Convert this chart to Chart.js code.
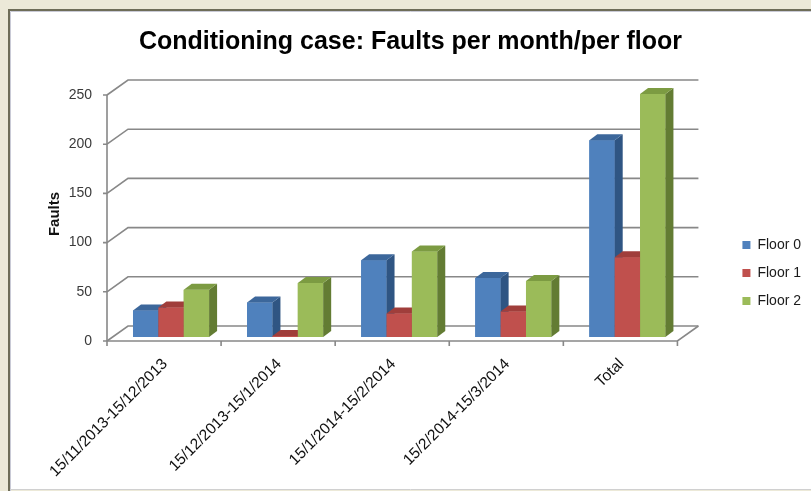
<!DOCTYPE html>
<html><head><meta charset="utf-8">
<script src="https://cdn.jsdelivr.net/npm/chart.js@4.4.1/dist/chart.umd.min.js"></script>
<style>html,body{margin:0;padding:0;background:#ECE9D8;overflow:hidden}canvas{display:block}</style>
</head><body>
<canvas id="c" width="811" height="491"></canvas>
<script>
const categories = ['15/11/2013-15/12/2013', '15/12/2013-15/1/2014', '15/1/2014-15/2/2014', '15/2/2014-15/3/2014', 'Total'];
const seriesNames = ['Floor 0', 'Floor 1', 'Floor 2'];
const floor0 = [27, 35, 78, 60, 200];
const floor1 = [30, 1, 24, 26, 81];
const floor2 = [48, 55, 87, 57, 247];
const yTicks = [0, 50, 100, 150, 200, 250];
const titleText = 'Conditioning case: Faults per month/per floor';
const yTitle = 'Faults';

const frontColors = ['#4F81BD', '#C0504D', '#9BBB59'];
const sideColors = ['#2F5583', '#8A3634', '#637C33'];
const topColors = ['#3C679B', '#A03E3B', '#7C9B42'];

Chart.defaults.font.family = "'Liberation Sans', Arial, sans-serif";

const panel = {
  id: 'panel',
  beforeDraw(chart) {
    const ctx = chart.ctx, W = chart.width, H = chart.height;
    ctx.save();
    ctx.fillStyle = '#ECE9D8'; ctx.fillRect(0, 0, W, H);
    ctx.fillStyle = '#FFFFFF'; ctx.fillRect(9, 10, W - 9, H - 11);
    ctx.strokeStyle = '#6E6D58'; ctx.lineWidth = 2;
    ctx.beginPath(); ctx.moveTo(9, H); ctx.lineTo(9, 10); ctx.lineTo(W, 10); ctx.stroke();
    ctx.strokeStyle = '#C9CAD6'; ctx.lineWidth = 1;
    ctx.beginPath(); ctx.moveTo(10.5, H); ctx.lineTo(10.5, 11.5); ctx.lineTo(W, 11.5); ctx.stroke();
    ctx.strokeStyle = '#D0D0D0';
    ctx.beginPath(); ctx.moveTo(10, H - 1.5); ctx.lineTo(W, H - 1.5); ctx.stroke();
    ctx.restore();
  }
};

const frame = {
  id: 'frame',
  beforeDatasetsDraw(chart) {
    const {ctx, chartArea: a, scales: {y}} = chart;
    const FX = -7, FY = 4, BX = 21, BY = -15;
    const fl = a.left + FX, fr = a.right + FX;
    ctx.save();
    ctx.strokeStyle = '#888888'; ctx.lineWidth = 1.6;
    yTicks.forEach(v => {
      const yy = y.getPixelForValue(v) + FY;
      ctx.beginPath();
      ctx.moveTo(fl, yy); ctx.lineTo(fl + BX, yy + BY); ctx.lineTo(fr + BX, yy + BY);
      ctx.moveTo(fl - 4, yy); ctx.lineTo(fl, yy);
      ctx.stroke();
    });
    const y0 = y.getPixelForValue(0) + FY, yTop = y.getPixelForValue(yTicks[yTicks.length - 1]) + FY;
    ctx.beginPath();
    ctx.moveTo(fl, yTop); ctx.lineTo(fl, y0); ctx.lineTo(fr, y0); ctx.lineTo(fr + BX, y0 + BY);
    const n = categories.length;
    for (let i = 0; i <= n; i++) {
      const xx = fl + i * (fr - fl) / n;
      ctx.moveTo(xx, y0); ctx.lineTo(xx, y0 + 5);
    }
    ctx.stroke();
    ctx.restore();
  }
};

const bar3d = {
  id: 'bar3d',
  afterDatasetsDraw(chart) {
    const ctx = chart.ctx, dx = 8, dy = -6;
    ctx.save();
    const metas = chart.data.datasets.map((d, i) => chart.getDatasetMeta(i));
    for (let j = 0; j < categories.length; j++) {
      metas.forEach((meta, i) => {
        const el = meta.data[j];
        if (!el) return;
        el.draw(ctx);
        const p = el.getProps(['x', 'y', 'base', 'width'], true);
        const l = p.x - p.width / 2, r = p.x + p.width / 2;
        ctx.fillStyle = sideColors[i];
        ctx.beginPath();
        ctx.moveTo(r, p.y); ctx.lineTo(r + dx, p.y + dy); ctx.lineTo(r + dx, p.base + dy); ctx.lineTo(r, p.base);
        ctx.closePath(); ctx.fill();
        ctx.fillStyle = topColors[i];
        ctx.beginPath();
        ctx.moveTo(l, p.y); ctx.lineTo(l + dx, p.y + dy); ctx.lineTo(r + dx, p.y + dy); ctx.lineTo(r, p.y);
        ctx.closePath(); ctx.fill();
      });
    }
    ctx.restore();
  }
};

const seriesData = [floor0, floor1, floor2];
new Chart(document.getElementById('c'), {
  type: 'bar',
  data: {
    labels: categories,
    datasets: seriesNames.map((name, i) => ({
      label: name,
      data: seriesData[i],
      backgroundColor: frontColors[i],
      borderWidth: 0,
      barPercentage: 1,
      categoryPercentage: 0.667
    }))
  },
  options: {
    responsive: false,
    animation: false,
    devicePixelRatio: 1,
    layout: { padding: { top: 10, left: 10, right: 0, bottom: 0 } },
    scales: {
      x: {
        grid: { display: false, drawTicks: false },
        border: { display: false },
        ticks: { autoSkip: false, maxRotation: 45, minRotation: 45, font: { size: 15.5 }, color: '#111111', padding: 18, labelOffset: -6 },
        afterFit: s => { s.height = 154; }
      },
      y: {
        min: 0, max: 250,
        afterBuildTicks: s => { s.ticks = yTicks.map(v => ({ value: v })); },
        grid: { display: false, drawTicks: false },
        border: { display: false },
        ticks: { font: { size: 14 }, color: '#3A3A3A', padding: 22, labelOffset: 4 },
        title: { display: true, text: yTitle, font: { size: 15, weight: 'bold' }, color: '#111111', padding: { top: 36, bottom: 0 } },
        afterFit: s => { s.width = 104; }
      },
      yR: {
        position: 'right',
        grid: { display: false, drawTicks: false },
        border: { display: false },
        ticks: { display: false },
        afterFit: s => { s.width = 44; }
      }
    },
    plugins: {
      title: { display: true, text: titleText, font: { size: 25, weight: 'bold' }, color: '#000000', padding: { top: 17, bottom: 34 } },
      legend: {
        position: 'right',
        labels: { boxWidth: 8, boxHeight: 8, padding: 14, font: { size: 14 }, color: '#1a1a1a' },
        title: { display: true, text: ' ', font: { size: 12 }, padding: { top: 15, bottom: 15.6 } }
      },
      tooltip: { enabled: false }
    }
  },
  plugins: [panel, frame, bar3d]
});
</script>
</body></html>
